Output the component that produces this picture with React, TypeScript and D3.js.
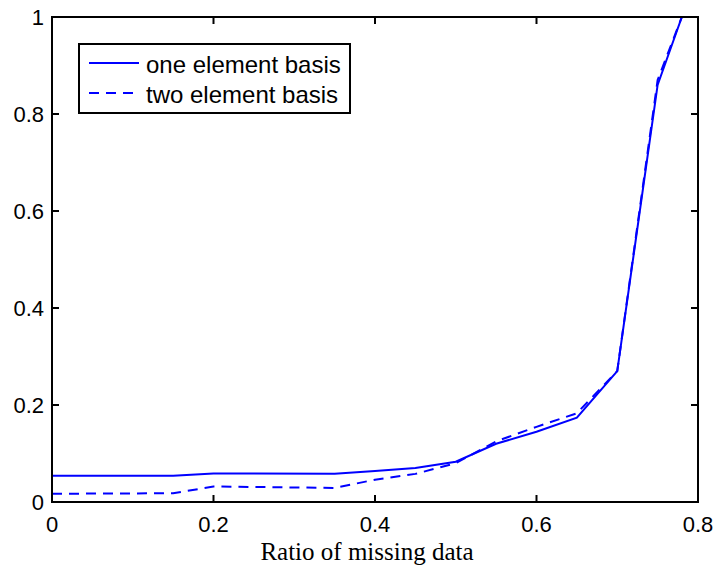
import React, { useEffect, useRef } from 'react';
import * as d3 from 'd3';

// ratio of missing data
const ratios = [0, 0.15, 0.2, 0.35, 0.4, 0.45, 0.5, 0.55, 0.6, 0.65, 0.7, 0.75, 0.78];
const oneElement = [0.054, 0.054, 0.059, 0.058, 0.064, 0.07, 0.083, 0.12, 0.145, 0.174, 0.27, 0.86, 1.0];
const twoElement = [0.017, 0.018, 0.032, 0.029, 0.046, 0.058, 0.08, 0.125, 0.155, 0.183, 0.27, 0.87, 1.0];
const xTicks = [0, 0.2, 0.4, 0.6, 0.8];
const yTicks = [0, 0.2, 0.4, 0.6, 0.8, 1];
const seriesNames = ['one element basis', 'two element basis'];

const App = () => {
  const ref = useRef<SVGSVGElement>(null);

  useEffect(() => {
    const svg = d3.select(ref.current);
    svg.selectAll('*').remove();

    const left = 52, right = 698, top = 17, bottom = 502;
    const x = d3.scaleLinear().domain([0, 0.8]).range([left, right]);
    const y = d3.scaleLinear().domain([0, 1]).range([bottom, top]);
    const font = 'Liberation Sans, Arial, Helvetica, sans-serif';
    const blue = '#0000ff';
    const tickLen = 7;
    const dash = '10,7';

    const line = d3.line<number>()
      .x((d, i) => x(ratios[i]))
      .y(d => y(d));

    svg.append('path')
      .attr('d', line(oneElement))
      .attr('fill', 'none')
      .attr('stroke', blue)
      .attr('stroke-width', 2);

    svg.append('path')
      .attr('d', line(twoElement))
      .attr('fill', 'none')
      .attr('stroke', blue)
      .attr('stroke-width', 2)
      .attr('stroke-dasharray', dash);

    // box
    svg.append('rect')
      .attr('x', left).attr('y', top)
      .attr('width', right - left).attr('height', bottom - top)
      .attr('fill', 'none').attr('stroke', '#000').attr('stroke-width', 2);

    // x ticks
    xTicks.forEach(t => {
      svg.append('line').attr('x1', x(t)).attr('x2', x(t)).attr('y1', bottom).attr('y2', bottom - tickLen)
        .attr('stroke', '#000').attr('stroke-width', 2);
      svg.append('line').attr('x1', x(t)).attr('x2', x(t)).attr('y1', top).attr('y2', top + tickLen)
        .attr('stroke', '#000').attr('stroke-width', 2);
      svg.append('text')
        .attr('x', x(t)).attr('y', bottom + 30)
        .attr('text-anchor', 'middle')
        .attr('font-family', font).attr('font-size', 22)
        .text(d3.format('~g')(t));
    });

    // y ticks
    yTicks.forEach(t => {
      svg.append('line').attr('x1', left).attr('x2', left + tickLen).attr('y1', y(t)).attr('y2', y(t))
        .attr('stroke', '#000').attr('stroke-width', 2);
      svg.append('line').attr('x1', right).attr('x2', right - tickLen).attr('y1', y(t)).attr('y2', y(t))
        .attr('stroke', '#000').attr('stroke-width', 2);
      svg.append('text')
        .attr('x', left - 8).attr('y', y(t) + 8)
        .attr('text-anchor', 'end')
        .attr('font-family', font).attr('font-size', 22)
        .text(d3.format('~g')(t));
    });

    svg.append('text')
      .attr('x', 367).attr('y', 560)
      .attr('text-anchor', 'middle')
      .attr('font-family', 'Liberation Serif, DejaVu Serif, serif').attr('font-size', 25)
      .text('Ratio of missing data');

    // legend
    const lg = svg.append('g');
    lg.append('rect')
      .attr('x', 79).attr('y', 44).attr('width', 271).attr('height', 69)
      .attr('fill', '#fff').attr('stroke', '#000').attr('stroke-width', 2);
    seriesNames.forEach((name, i) => {
      const base = 73 + i * 30;
      lg.append('line')
        .attr('x1', 89).attr('x2', 139).attr('y1', base - 10).attr('y2', base - 10)
        .attr('stroke', blue).attr('stroke-width', 2)
        .attr('stroke-dasharray', i === 1 ? dash : null);
      lg.append('text')
        .attr('x', 146).attr('y', base)
        .attr('font-family', font).attr('font-size', 24)
        .text(name);
    });
  }, []);

  return <svg ref={ref} width={719} height={568} style={{ position: 'absolute', left: 0, top: 0 }} />;
};

export default App;
